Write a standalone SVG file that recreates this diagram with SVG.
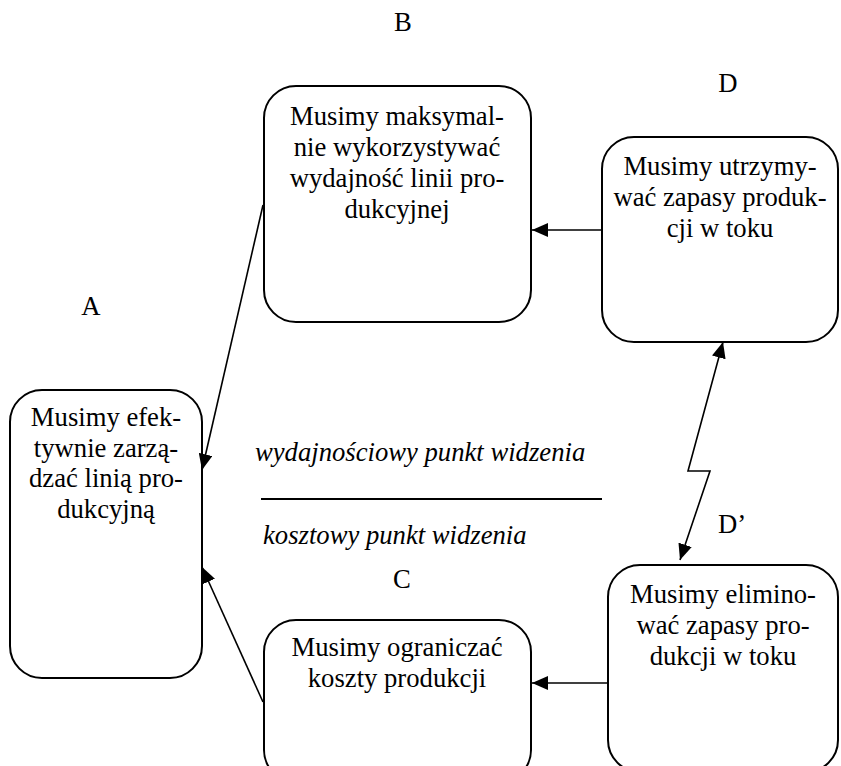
<svg xmlns="http://www.w3.org/2000/svg" width="841" height="766" viewBox="0 0 841 766">
<style>
.box{fill:#fff;stroke:#000;stroke-width:2}
.t{font-family:"Liberation Serif","Times New Roman",serif;font-size:26.67px;fill:#000}
.c{text-anchor:middle}
.i{font-style:italic}
.ln{fill:none;stroke:#000;stroke-width:1.6}
</style>
<defs>
<marker id="ah" markerUnits="userSpaceOnUse" markerWidth="16" markerHeight="14" viewBox="0 0 16 14" refX="16" refY="7" orient="auto-start-reverse">
<path d="M0,0 L16,7 L0,14 Z" fill="#000"/>
</marker>
</defs>
<rect width="841" height="766" fill="#fff"/>
<g id="labels">
<text class="t c" x="403" y="31">B</text>
<text class="t c" x="728" y="92">D</text>
<text class="t c" x="91" y="315">A</text>
<text class="t c" x="402" y="588">C</text>
<text class="t" x="718" y="533">D’</text>
<text class="t i" x="255" y="461">wydajnościowy punkt widzenia</text>
<text class="t i" x="263" y="544">kosztowy punkt widzenia</text>
</g>
<g id="divider">
<line x1="261" y1="499" x2="602" y2="499" stroke="#000" stroke-width="2"/>
</g>
<g id="nodeA">
<rect class="box" x="10" y="390" width="192" height="288" rx="32"/>
<text class="t c" x="106"><tspan x="106" y="426">Musimy efek-</tspan><tspan x="106" y="456.7">tywnie zarzą-</tspan><tspan x="106" y="487.4">dzać linią pro-</tspan><tspan x="106" y="518">dukcyjną</tspan></text>
</g>
<g id="nodeB">
<rect class="box" x="264" y="86" width="267" height="236" rx="32"/>
<text class="t c" x="397"><tspan x="397" y="125">Musimy maksymal-</tspan><tspan x="397" y="156">nie wykorzystywać</tspan><tspan x="397" y="187">wydajność linii pro-</tspan><tspan x="397" y="218">dukcyjnej</tspan></text>
</g>
<g id="nodeD">
<rect class="box" x="602" y="137" width="236" height="205" rx="32"/>
<text class="t c" x="720"><tspan x="720" y="175">Musimy utrzymy-</tspan><tspan x="720" y="206">wać zapasy produk-</tspan><tspan x="720" y="237">cji w toku</tspan></text>
</g>
<g id="nodeC">
<rect class="box" x="264" y="620" width="267" height="162" rx="32"/>
<text class="t c" x="397"><tspan x="397" y="656">Musimy ograniczać</tspan><tspan x="397" y="687">koszty produkcji</tspan></text>
</g>
<g id="nodeDprime">
<rect class="box" x="608" y="565" width="230" height="207" rx="32"/>
<text class="t c" x="723"><tspan x="723" y="603">Musimy elimino-</tspan><tspan x="723" y="634">wać zapasy pro-</tspan><tspan x="723" y="665">dukcji w toku</tspan></text>
</g>
<g id="connectors">
<line class="ln" x1="263" y1="205" x2="202" y2="470" marker-end="url(#ah)"/>
<line class="ln" x1="263" y1="702" x2="202" y2="567" marker-end="url(#ah)"/>
<line class="ln" x1="602" y1="230" x2="532" y2="230" marker-end="url(#ah)"/>
<line class="ln" x1="608" y1="683" x2="532" y2="683" marker-end="url(#ah)"/>
<polyline class="ln" points="723,342 688,471 710,471 680,560" marker-start="url(#ah)" marker-end="url(#ah)"/>
</g>
</svg>
